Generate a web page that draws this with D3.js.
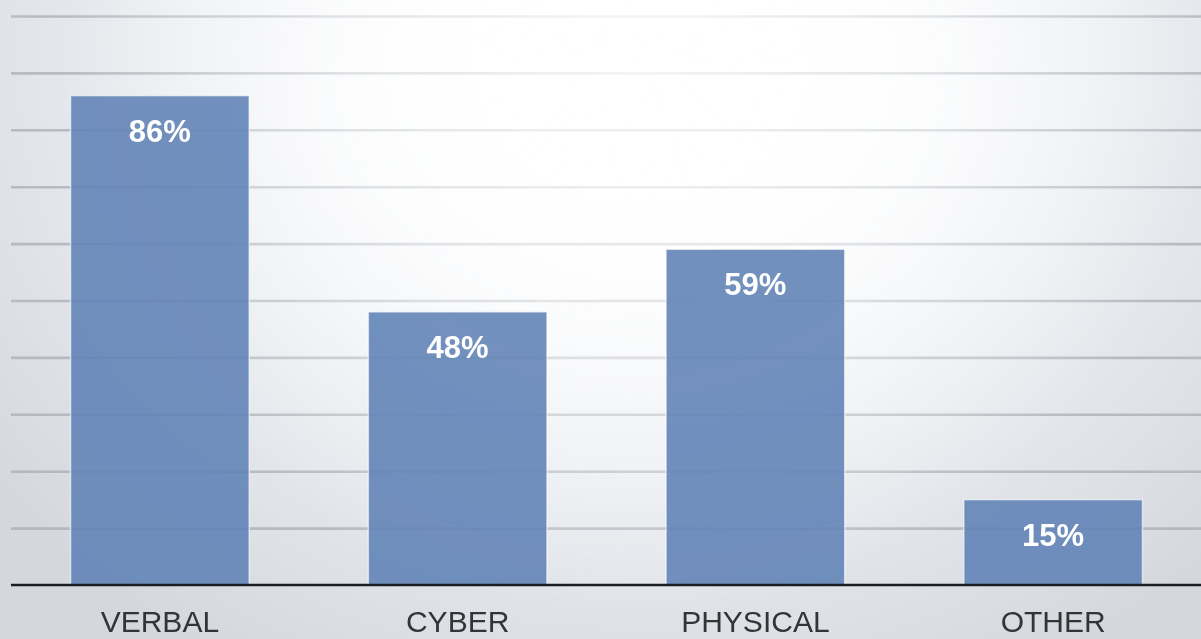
<!DOCTYPE html>
<html>
<head>
<meta charset="utf-8">
<script src="https://cdn.jsdelivr.net/npm/d3@7/dist/d3.min.js"></script>
<style>
  html, body { margin: 0; padding: 0; background: #ffffff; overflow: hidden; }
  svg { display: block; }
</style>
</head>
<body>
<script>
// Share of respondents by type of bullying
const categories = ["VERBAL", "CYBER", "PHYSICAL", "OTHER"];
const values = [86, 48, 59, 15];
const gridTicks = [10, 20, 30, 40, 50, 60, 70, 80, 90, 100];

const W = 1201, H = 639;

const svg = d3.select("body").append("svg")
  .attr("width", W)
  .attr("height", H);

const defs = svg.append("defs");

// Soft backdrop: bright in the upper centre, cool grey towards the edges
const bg = defs.append("radialGradient")
  .attr("id", "bg")
  .attr("gradientUnits", "userSpaceOnUse")
  .attr("cx", 640).attr("cy", 60).attr("r", 820)
  .attr("gradientTransform", "translate(640,60) scale(1,0.85) translate(-640,-60)");
bg.append("stop").attr("offset", "0").attr("stop-color", "#ffffff");
bg.append("stop").attr("offset", "0.3").attr("stop-color", "#fbfcfd");
bg.append("stop").attr("offset", "0.72").attr("stop-color", "#e3e6eb");
bg.append("stop").attr("offset", "1").attr("stop-color", "#d4d7db");

// Glow laid over the grid so lines fade towards the centre
const glow = defs.append("radialGradient")
  .attr("id", "glow")
  .attr("gradientUnits", "userSpaceOnUse")
  .attr("cx", 640).attr("cy", 40).attr("r", 580);
glow.append("stop").attr("offset", "0").attr("stop-color", "#ffffff").attr("stop-opacity", 0.85);
glow.append("stop").attr("offset", "0.5").attr("stop-color", "#ffffff").attr("stop-opacity", 0.55);
glow.append("stop").attr("offset", "1").attr("stop-color", "#ffffff").attr("stop-opacity", 0);

const soft = defs.append("filter").attr("id", "soft")
  .attr("x", "-5%").attr("y", "-5%").attr("width", "110%").attr("height", "110%");
soft.append("feGaussianBlur").attr("stdDeviation", 0.6);

svg.append("rect")
  .attr("width", W).attr("height", H)
  .attr("fill", "url(#bg)");

const x = d3.scaleBand()
  .domain(categories)
  .range([11, 1202])
  .paddingInner(0.4)
  .paddingOuter(0.2);

const y = d3.scaleLinear()
  .domain([0, 100])
  .range([585, 16]);

const root = svg.append("g").attr("filter", "url(#soft)");

// Horizontal gridlines
const grid = d3.axisLeft(y)
  .tickValues(gridTicks)
  .tickSize(-(W - 11))
  .tickFormat("");

const gridG = root.append("g")
  .attr("transform", "translate(11,0)")
  .call(grid);
gridG.select(".domain").remove();
gridG.selectAll(".tick line")
  .attr("stroke", "#a9adb4")
  .attr("stroke-opacity", 0.75)
  .attr("stroke-width", 2.6);

root.append("rect")
  .attr("width", W).attr("height", 600)
  .attr("fill", "url(#glow)");

// Bars
root.append("g")
  .selectAll("rect")
  .data(values)
  .join("rect")
  .attr("x", (d, i) => x(categories[i]))
  .attr("y", d => y(d))
  .attr("width", x.bandwidth())
  .attr("height", d => y(0) - y(d))
  .attr("fill", "#6384b7")
  .attr("fill-opacity", 0.9)
  .attr("stroke", "#ffffff")
  .attr("stroke-opacity", 0.6)
  .attr("stroke-width", 1.5);

// Value labels inside the bars
root.append("g")
  .selectAll("text")
  .data(values)
  .join("text")
  .attr("x", (d, i) => x(categories[i]) + x.bandwidth() / 2)
  .attr("y", d => y(d) + 46)
  .attr("text-anchor", "middle")
  .attr("fill", "#ffffff")
  .style("font-family", "'Liberation Sans', Arial, sans-serif")
  .style("font-weight", "bold")
  .style("font-size", "31px")
  .text(d => d + "%");

// Baseline and category axis
const xAxis = d3.axisBottom(x).tickSize(0).tickPadding(0);
const xG = root.append("g")
  .attr("transform", `translate(0,${y(0)})`)
  .call(xAxis);
xG.select(".domain").remove();
root.append("line")
  .attr("x1", 11).attr("x2", W)
  .attr("y1", y(0)).attr("y2", y(0))
  .attr("stroke", "#1e1f22")
  .attr("stroke-width", 2.6);
xG.selectAll(".tick text")
  .attr("y", 47)
  .attr("dy", 0)
  .attr("fill", "#333437")
  .style("font-family", "'Liberation Sans', Arial, sans-serif")
  .style("font-size", "30px");
</script>
</body>
</html>
